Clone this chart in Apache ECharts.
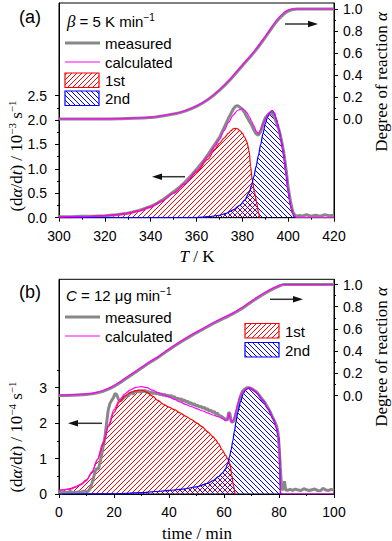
<!DOCTYPE html>
<html><head><meta charset="utf-8">
<script src="https://cdn.jsdelivr.net/npm/echarts@6/dist/echarts.min.js"></script>
<style>html,body{margin:0;padding:0;background:#fff}#c{width:392px;height:541px}</style>
</head><body><div id="c"></div><script>
// ---------- Panel (a): T / K ----------
const tempTicks = [300, 320, 340, 360, 380, 400, 420];
const tempMinorTicks = [310, 330, 350, 370, 390, 410];
const rateATicks = [0, 0.5, 1.0, 1.5, 2.0, 2.5];
const rateAMinorTicks = [0.25, 0.75, 1.25, 1.75, 2.25];
const alphaTicks = [0, 0.2, 0.4, 0.6, 0.8, 1.0];
const alphaMinorTicks = [0.1, 0.3, 0.5, 0.7, 0.9];

const measuredRateA = [[300,0.02],[305,0.02],[310,0.03],[315,0.03],[320,0.04],[325,0.06],[330,0.09],[335,0.15],[340,0.23],[343,0.3],[345,0.36],[348,0.46],[350,0.53],[353,0.64],[355,0.73],[358,0.88],[360,0.99],[363,1.16],[365,1.29],[368,1.5],[370,1.64],[372,1.84],[374,2.04],[375,2.13],[376,2.22],[377,2.28],[378,2.29],[379,2.26],[380,2.22],[381,2.15],[382,2.06],[383,1.98],[384,1.9],[385,1.8],[386,1.72],[387,1.69],[388,1.76],[389,1.92],[390,2.04],[391,2.1],[392,2.14],[393,2.13],[394,2.06],[395,1.93],[396,1.8],[397,1.6],[398,1.36],[399,1.02],[400,0.62],[401,0.34],[402,0.12],[403,0.05],[404,0.03],[405,0.05],[406,0.03],[408,0.06],[410,0.03],[412,0.05],[414,0.03],[416,0.06],[418,0.04],[420,0.05]];
const calcRateA = [[300,0.01],[310,0.02],[320,0.04],[325,0.06],[330,0.09],[335,0.14],[340,0.22],[345,0.34],[350,0.5],[355,0.7],[360,0.96],[365,1.25],[368,1.46],[370,1.6],[372,1.78],[374,1.95],[376,2.1],[378,2.2],[380,2.23],[381,2.2],[382,2.15],[383,2.07],[384,1.98],[385,1.88],[386,1.78],[387,1.72],[388,1.8],[389,1.92],[390,2.02],[391,2.1],[392,2.16],[393,2.19],[394,2.14],[395,2.0],[396,1.78],[397,1.56],[398,1.3],[399,0.95],[400,0.55],[401,0.25],[402,0.09],[403,0.02],[404,0],[420,0]];
const firstRateA = [[300,0.01],[310,0.02],[320,0.04],[325,0.06],[330,0.09],[335,0.14],[340,0.22],[345,0.34],[350,0.5],[355,0.69],[360,0.93],[365,1.2],[368,1.4],[370,1.52],[372,1.63],[374,1.73],[375,1.78],[376,1.82],[377,1.83],[378,1.82],[379,1.78],[380,1.73],[381,1.65],[382,1.55],[383,1.36],[383.6,1.05],[384.4,0.75],[385.3,0.53],[386.3,0.3],[387,0.12],[387.5,0]];
const secondRateA = [[300,0],[360,0],[365,0.02],[370,0.05],[373,0.09],[376,0.16],[379,0.26],[381,0.36],[383,0.52],[384,0.66],[385,0.84],[386,1.05],[387,1.27],[388,1.5],[389,1.72],[390,1.92],[391,2.06],[392,2.15],[393,2.19],[394,2.14],[395,2.0],[396,1.8],[397,1.56],[398,1.3],[399,0.95],[400,0.55],[401,0.25],[402,0.08],[402.6,0.02],[403.5,0]];
const measuredAlphaA = [[300,0],[320,0.001],[330,0.005],[340,0.013],[345,0.027],[350,0.045],[355,0.072],[360,0.114],[365,0.176],[370,0.26],[375,0.364],[380,0.484],[385,0.603],[390,0.742],[395,0.888],[398,0.952],[400,0.98],[402,0.995],[404,1.0],[420,1.0]];
const calcAlphaA = [[300,0],[320,0.002],[330,0.006],[340,0.015],[345,0.03],[350,0.048],[355,0.075],[360,0.118],[365,0.18],[370,0.265],[375,0.37],[380,0.49],[385,0.61],[390,0.75],[395,0.9],[398,0.965],[400,0.99],[402,1.0],[420,1.0]];

// ---------- Panel (b): time / min ----------
const timeTicks = [0, 20, 40, 60, 80, 100];
const timeMinorTicks = [10, 30, 50, 70, 90];
const rateBTicks = [0, 1, 2, 3];
const rateBMinorTicks = [0.5, 1.5, 2.5, 3.5];

const measuredRateB = [[0,0.05],[1,0.03],[2,0.06],[3,0.04],[4,0.07],[5,0.05],[6,0.04],[7,0.06],[8,0.05],[9,0.08],[10,0.06],[10.8,0.09],[11.5,0.18],[12.3,0.38],[13.1,0.63],[13.7,0.72],[14.3,0.7],[14.9,0.88],[15.6,1.15],[16.2,1.4],[16.7,1.6],[17.3,2.0],[17.9,2.37],[18.5,2.55],[19.2,2.65],[19.8,2.72],[20.4,2.84],[21.0,2.8],[21.6,2.68],[22.2,2.62],[22.8,2.66],[23.4,2.7],[24.0,2.74],[24.6,2.78],[25.2,2.76],[25.8,2.83],[26.4,2.86],[27.0,2.82],[27.6,2.9],[28.2,2.88],[28.8,2.92],[29.4,2.87],[30.0,2.91],[30.6,2.89],[31.2,2.93],[31.8,2.86],[32.4,2.9],[33.0,2.85],[33.6,2.88],[34.2,2.83],[34.8,2.87],[35.4,2.82],[36.0,2.85],[36.6,2.8],[37.2,2.83],[37.8,2.78],[38.4,2.82],[39.0,2.76],[39.6,2.8],[40.2,2.74],[40.8,2.78],[41.4,2.72],[42.0,2.75],[42.6,2.68],[43.2,2.71],[43.8,2.66],[44.4,2.69],[45.0,2.62],[45.6,2.66],[46.2,2.59],[46.8,2.62],[47.4,2.55],[48.0,2.58],[48.6,2.52],[49.2,2.55],[49.8,2.48],[50.4,2.51],[51.0,2.45],[51.6,2.48],[52.2,2.42],[52.8,2.45],[53.4,2.38],[54.0,2.41],[54.6,2.34],[55.2,2.37],[55.8,2.3],[56.4,2.33],[57.0,2.26],[57.6,2.28],[58.2,2.22],[58.8,2.2],[59.4,2.17],[60.0,2.14],[60.6,2.11],[61.2,2.08],[61.7,2.3],[62.1,2.28],[62.6,2.05],[63.1,2.02],[63.7,2.08],[64.3,2.25],[64.9,2.42],[65.5,2.62],[66.1,2.78],[66.7,2.9],[67.3,2.95],[67.9,2.98],[68.5,3.0],[69.1,3.0],[69.7,2.98],[70.3,2.96],[70.9,2.93],[71.5,2.9],[72.1,2.86],[72.7,2.8],[73.3,2.74],[73.9,2.68],[74.5,2.62],[75.1,2.55],[75.7,2.47],[76.3,2.39],[76.9,2.3],[77.5,2.2],[78.1,2.1],[78.7,2.0],[79.2,1.9],[79.6,1.75],[80.0,1.4],[80.4,0.85],[80.8,0.35],[81.2,0.1],[81.6,0.22],[82.0,0.36],[82.4,0.12],[83,0.1],[84,0.13],[85,0.1],[86,0.14],[87,0.11],[88,0.1],[89,0.15],[90,0.12],[91,0.1],[92,0.12],[93,0.14],[94,0.1],[95,0.09],[96,0.16],[97,0.11],[98,0.1],[99,0.13],[100,0.11]];
const calcRateB = [[0,0.1],[4,0.14],[8,0.26],[10,0.38],[12,0.62],[14,0.98],[16,1.45],[18,1.95],[20,2.38],[22,2.66],[24,2.83],[26,2.94],[28,3.01],[30,3.03],[32,3.0],[34,2.93],[36,2.86],[38,2.8],[40,2.74],[42,2.67],[44,2.6],[46,2.53],[48,2.47],[50,2.41],[52,2.35],[54,2.29],[56,2.23],[58,2.18],[59.5,2.13],[60.5,2.07],[61.3,2.1],[61.8,2.28],[62.3,2.1],[62.8,2.03],[63.5,2.1],[64.2,2.3],[65,2.55],[66,2.78],[67,2.9],[68,2.97],[69,3.0],[70,2.98],[71,2.92],[72,2.85],[74,2.65],[76,2.42],[78,2.12],[79,1.9],[79.6,1.7],[80.1,1.52],[80.3,0.8],[80.5,0.05],[81,0],[100,0]];
const firstRateB = [[0,0.1],[2,0.12],[4,0.15],[6,0.2],[8,0.28],[10,0.4],[12,0.62],[14,0.97],[16,1.4],[18,1.9],[20,2.3],[22,2.6],[24,2.77],[26,2.87],[28,2.92],[30,2.93],[32,2.87],[34,2.76],[36,2.64],[38,2.53],[40,2.45],[42,2.38],[44,2.29],[46,2.2],[48,2.11],[50,2.01],[52,1.9],[54,1.76],[56,1.62],[57,1.53],[58,1.42],[59.4,1.24],[60.5,1.1],[61.5,0.98],[62.2,0.85],[62.8,0.55],[63.4,0.25],[64,0]];
const secondRateB = [[0,0],[20,0.005],[25,0.02],[30,0.04],[35,0.07],[40,0.1],[45,0.14],[50,0.2],[54,0.3],[56,0.38],[58,0.49],[59.5,0.6],[60.5,0.7],[61.3,0.85],[62,1.05],[62.6,1.25],[63.2,1.5],[63.8,1.78],[64.4,2.05],[65,2.3],[66,2.6],[67,2.83],[68,2.95],[69,2.99],[70,2.97],[71,2.91],[72,2.84],[74,2.64],[76,2.41],[78,2.11],[79,1.88],[79.6,1.68],[80.1,1.5],[80.3,0.8],[80.5,0]];
const measuredAlphaB = [[0,0],[5,0.003],[10,0.01],[12,0.015],[14,0.024],[16,0.038],[18,0.057],[20,0.082],[22,0.112],[24,0.147],[27,0.197],[30,0.247],[33,0.297],[36,0.343],[40,0.412],[44,0.477],[48,0.537],[52,0.592],[56,0.647],[60,0.697],[63,0.732],[66,0.776],[69,0.826],[72,0.876],[75,0.922],[78,0.962],[80,0.985],[81,0.995],[82,1.0],[100,1.0]];
const calcAlphaB = [[0,0.005],[5,0.008],[10,0.015],[12,0.02],[14,0.03],[16,0.045],[18,0.065],[20,0.09],[22,0.12],[24,0.155],[27,0.205],[30,0.255],[33,0.305],[36,0.35],[40,0.42],[44,0.485],[48,0.545],[52,0.6],[56,0.655],[60,0.705],[63,0.74],[66,0.785],[69,0.835],[72,0.885],[75,0.93],[78,0.97],[80,0.99],[81,1.0],[100,1.0]];

// ---------- helpers ----------
const SANS = 'Liberation Sans';
const SERIF = 'Liberation Serif';
function hatch(color, dir, size) {
  const c = document.createElement('canvas');
  c.width = size; c.height = size;
  const g = c.getContext('2d');
  g.strokeStyle = color; g.lineWidth = 1;
  g.beginPath();
  if (dir > 0) {
    g.moveTo(-1, size + 1); g.lineTo(size + 1, -1);
    g.moveTo(-1, 1); g.lineTo(1, -1);
    g.moveTo(size - 1, size + 1); g.lineTo(size + 1, size - 1);
  } else {
    g.moveTo(-1, -1); g.lineTo(size + 1, size + 1);
    g.moveTo(size - 1, -1); g.lineTo(size + 1, 1);
    g.moveTo(-1, size - 1); g.lineTo(1, size + 1);
  }
  g.stroke();
  return { image: c, repeat: 'repeat' };
}
const redPat = hatch('#ff0000', 1, 5);
const bluePat = hatch('#0000ff', -1, 5);

function mainAxis(gridIndex, pos, min, max, ticks, fmt, margin) {
  return {
    type: 'value', gridIndex, position: pos, min, max,
    axisLine: { show: true, onZero: false, lineStyle: { color: '#000', width: 1 } },
    axisTick: { show: true, inside: false, length: 4, customValues: ticks, lineStyle: { color: '#000', width: 1 } },
    axisLabel: { show: true, customValues: ticks, formatter: fmt, margin, fontSize: 14, color: '#000', fontFamily: SANS },
    splitLine: { show: false }
  };
}
function minorAxis(gridIndex, pos, min, max, ticks) {
  return {
    type: 'value', gridIndex, position: pos, min, max,
    axisLine: { show: false, onZero: false },
    axisTick: { show: true, inside: false, length: 2, customValues: ticks, lineStyle: { color: '#000', width: 1 } },
    axisLabel: { show: false },
    splitLine: { show: false }
  };
}
const f1 = v => v.toFixed(1);
const f0 = v => String(Math.round(v));

function lineS(x, y, data, color, width, smooth, area, mono) {
  const s = {
    type: 'line', xAxisIndex: x, yAxisIndex: y, data, symbol: 'none', showSymbol: false,
    smooth: smooth || false, silent: true,
    lineStyle: { color, width }, itemStyle: { color }
  };
  if (mono) s.smoothMonotone = 'x';
  if (area) s.areaStyle = { color: area, opacity: 1, origin: 'start' };
  return s;
}

function arrow(x1, x2, y, headLeft) {
  const hl = 10, hw = 3.2;
  const tip = headLeft ? x1 : x2;
  const base = headLeft ? x1 + hl : x2 - hl;
  return [
    { type: 'line', shape: { x1: headLeft ? base : x1, y1: y, x2: headLeft ? x2 : base, y2: y }, style: { stroke: '#333', lineWidth: 1.5 } },
    { type: 'polygon', shape: { points: [[tip, y], [base, y - hw], [base, y + hw]] }, style: { fill: '#111' } }
  ];
}
function txt(x, y, text, rich, opts) {
  return Object.assign({
    type: 'text', x, y,
    style: { text, rich, align: 'left', verticalAlign: 'middle', textAlign: 'left', textVerticalAlign: 'middle', fill: '#000' }
  }, opts || {});
}
const richSans = {
  n: { fontFamily: SANS, fontSize: 15, lineHeight: 18, color: '#000' },
  i: { fontFamily: SERIF, fontStyle: 'italic', fontSize: 17, lineHeight: 18, color: '#000' },
  si: { fontFamily: SANS, fontStyle: 'italic', fontSize: 15, lineHeight: 18, color: '#000' },
  s: { fontFamily: SANS, fontSize: 10, lineHeight: 10, verticalAlign: 'top', color: '#000' }
};
const richSerif = {
  n: { fontFamily: SERIF, fontSize: 17, lineHeight: 20, color: '#000' },
  i: { fontFamily: SERIF, fontStyle: 'italic', fontSize: 17, lineHeight: 20, color: '#000' },
  s: { fontFamily: SERIF, fontSize: 11, lineHeight: 11, verticalAlign: 'top', color: '#000' }
};
function ctext(x, y, text, rich, rot) {
  return {
    type: 'text', x, y, rotation: rot || 0,
    style: { text, rich, align: 'center', verticalAlign: 'middle', textAlign: 'center', textVerticalAlign: 'middle', fill: '#000' }
  };
}
function legendBlock(x, yMeas, yCalc) {
  return [
    { type: 'line', shape: { x1: x, y1: yMeas, x2: x + 35, y2: yMeas }, style: { stroke: '#888', lineWidth: 3 } },
    txt(x + 40, yMeas, '{n|measured}', richSans),
    { type: 'line', shape: { x1: x, y1: yCalc, x2: x + 35, y2: yCalc }, style: { stroke: '#ff00ff', lineWidth: 1.2 } },
    txt(x + 40, yCalc, '{n|calculated}', richSans)
  ];
}
function boxes(x, y1, y2) {
  return [
    { type: 'rect', shape: { x, y: y1, width: 34, height: 14.5 }, style: { fill: redPat, stroke: '#ff0000', lineWidth: 1.2 } },
    txt(x + 40, y1 + 7.5, '{n|1st}', richSans),
    { type: 'rect', shape: { x, y: y2, width: 34, height: 14.5 }, style: { fill: bluePat, stroke: '#0000ff', lineWidth: 1.2 } },
    txt(x + 40, y2 + 7.5, '{n|2nd}', richSans)
  ];
}

const G1 = { top: 3, h: 214.7 }, G2 = { top: 279.3, h: 214.7 };

const option = {
  animation: false,
  backgroundColor: '#fff',
  grid: [
    { left: 59, top: G1.top, width: 275, height: G1.h, show: true, borderColor: '#000', borderWidth: 1, backgroundColor: 'transparent' },
    { left: 59, top: G2.top, width: 275, height: G2.h, show: true, borderColor: '#000', borderWidth: 1, backgroundColor: 'transparent' }
  ],
  xAxis: [
    mainAxis(0, 'bottom', 300, 420, tempTicks, f0, 11),
    minorAxis(0, 'bottom', 300, 420, tempMinorTicks),
    mainAxis(1, 'bottom', 0, 100, timeTicks, f0, 11),
    minorAxis(1, 'bottom', 0, 100, timeMinorTicks)
  ],
  yAxis: [
    mainAxis(0, 'left', 0, 4.395, rateATicks, f1, 12),
    minorAxis(0, 'left', 0, 4.395, rateAMinorTicks),
    mainAxis(0, 'right', -0.8973, 1.0545, alphaTicks, f1, 9),
    minorAxis(0, 'right', -0.8973, 1.0545, alphaMinorTicks),
    mainAxis(1, 'left', 0, 6.06, rateBTicks, f0, 12),
    minorAxis(1, 'left', 0, 6.06, rateBMinorTicks),
    mainAxis(1, 'right', -0.887, 1.047, alphaTicks, f1, 9),
    minorAxis(1, 'right', -0.887, 1.047, alphaMinorTicks)
  ],
  series: [
    lineS(0, 0, measuredRateA, '#888', 3, false),
    lineS(0, 0, firstRateA, '#ff0000', 1.2, 0.3, redPat, true),
    lineS(0, 0, secondRateA, '#0000ff', 1.2, 0.3, bluePat, true),
    lineS(0, 0, calcRateA, '#ff00ff', 1.2, 0.3, null, true),
    lineS(0, 2, measuredAlphaA, '#888', 3, 0.4),
    lineS(0, 2, calcAlphaA, '#ff00ff', 1.2, 0.4),

    lineS(2, 4, measuredRateB, '#888', 3, false),
    lineS(2, 4, firstRateB, '#ff0000', 1.2, 0.3, redPat, true),
    lineS(2, 4, secondRateB, '#0000ff', 1.2, 0.3, bluePat, true),
    lineS(2, 4, calcRateB, '#ff00ff', 1.2, 0.3, null, true),
    lineS(2, 6, measuredAlphaB, '#888', 3, 0.4),
    lineS(2, 6, calcAlphaB, '#ff00ff', 1.2, 0.4)
  ],
  graphic: [].concat(
    [ctext(30, 17, '{p|(a)}', { p: { fontFamily: SANS, fontSize: 18, color: '#000' } })],
    [ctext(30, 292, '{p|(b)}', { p: { fontFamily: SANS, fontSize: 18, color: '#000' } })],
    [txt(67, 21, '{i|β}{n| = 5 K min}{s|−1}', richSans)],
    legendBlock(65, 43, 62),
    boxes(65, 73, 91),
    [txt(66, 295, '{si|C}{n| = 12 μg min}{s|−1}', richSans)],
    legendBlock(65, 317, 336),
    boxes(245, 323.5, 342.5),
    arrow(285, 318, 24, false),
    arrow(152, 185, 176.7, true),
    arrow(270, 303, 299.3, false),
    arrow(68, 102, 423.3, true),
    [ctext(16, 156, '{n|(d}{i|α}{n|/d}{i|t}{n|) / 10}{s|−3}{n| s}{s|−1}', richSerif, Math.PI / 2)],
    [ctext(16, 437, '{n|(d}{i|α}{n|/d}{i|t}{n|) / 10}{s|−4}{n| s}{s|−1}', richSerif, Math.PI / 2)],
    [ctext(381, 82, '{n|Degree of reaction }{i|α}', richSerif, Math.PI / 2)],
    [ctext(381, 357, '{n|Degree of reaction }{i|α}', richSerif, Math.PI / 2)],
    [ctext(197, 256, '{i|T}{n| / K}', richSerif)],
    [ctext(197, 533, '{n|time / min}', richSerif)]
  )
};
const chart = echarts.init(document.getElementById('c'), null, { renderer: 'svg', width: 392, height: 541 });
chart.setOption(option);
</script></body></html>
